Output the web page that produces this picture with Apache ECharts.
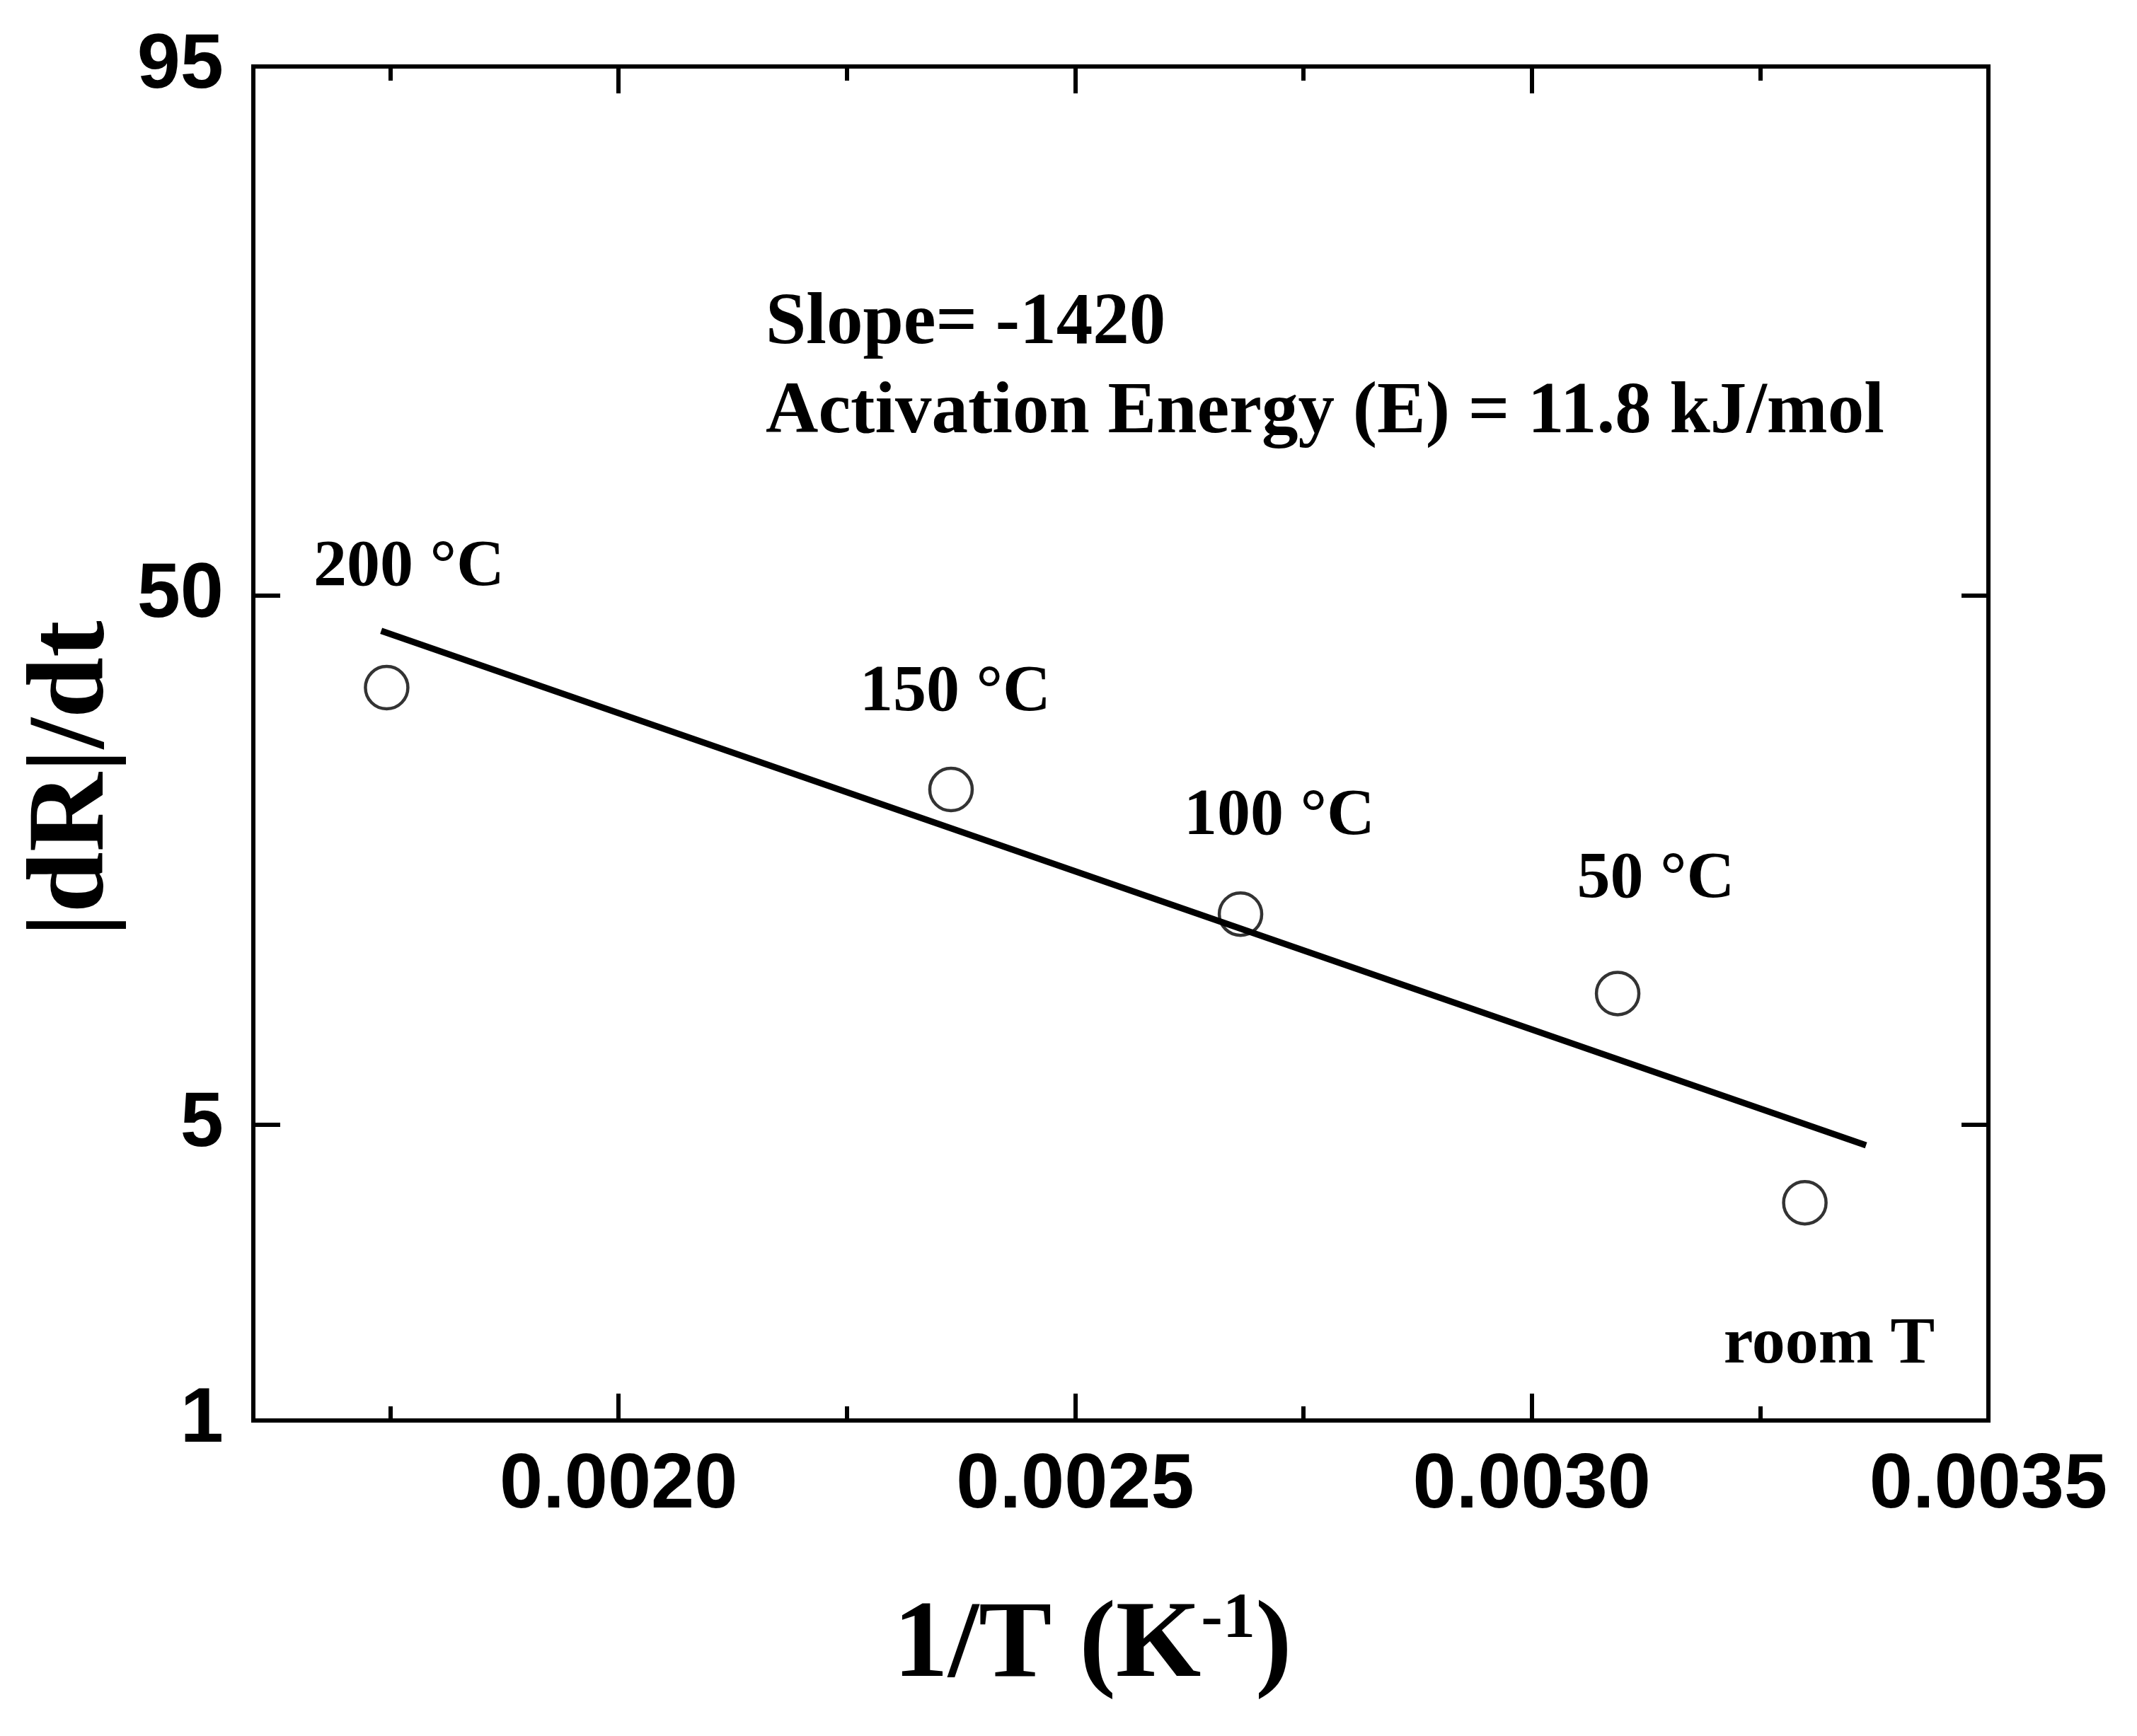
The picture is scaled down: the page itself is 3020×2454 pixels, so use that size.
<!DOCTYPE html>
<html>
<head>
<meta charset="utf-8">
<script src="https://cdn.jsdelivr.net/npm/echarts@6/dist/echarts.min.js"></script>
<style>
html,body{margin:0;padding:0;background:#ffffff;}
#chart{width:3020px;height:2454px;}
</style>
</head>
<body>
<div id="chart"></div>
<script>
// ---- data ----
const tempLabels = ['200 °C', '150 °C', '100 °C', '50 °C', 'room T'];
const invT = [0.001746, 0.002364, 0.002681, 0.003094, 0.003299];   // 1/T (K^-1)
const rate = [33.5, 21.5, 12.5, 8.85, 3.56];                        // |dR|/dt
const fitInvT = [0.001740, 0.003366];                                // fitted line ends
const fitRate = [42.9, 4.57];
const xTickValues = [0.0020, 0.0025, 0.0030, 0.0035];
const xMinorTickValues = [0.00175, 0.00225, 0.00275, 0.00325];
const yTickValues = [1.38, 5, 50, 500];
const yTickLabels = ['1', '5', '50', '95'];
const xRange = [0.0016, 0.0035];
const yRange = [1.38, 500];
const annotationLines = ['Slope= -1420', 'Activation Energy (E) = 11.8 kJ/mol'];

// ---- chart ----
const SANS = '"Liberation Sans", Arial, sans-serif';
const SERIF = '"Liberation Serif", "Times New Roman", serif';
const lg = v => Math.log10(v);
const yTickLog = yTickValues.map(lg);
const yFormatter = v => {
  let best = 0;
  for (let i = 1; i < yTickLog.length; i++) {
    if (Math.abs(yTickLog[i] - v) < Math.abs(yTickLog[best] - v)) best = i;
  }
  return yTickLabels[best];
};

const frameLine = { show: true, lineStyle: { color: '#000', width: 6, cap: 'square' } };
const tickStyle = { color: '#000', width: 6 };

function xAxisDef(position, values, len, main, withLabels) {
  return {
    type: 'value', position: position, min: xRange[0], max: xRange[1],
    axisLine: main ? frameLine : { show: false },
    axisTick: { show: true, inside: true, length: len, customValues: values, lineStyle: tickStyle },
    axisLabel: withLabels ? {
      show: true, customValues: values, margin: 38,
      fontFamily: SANS, fontWeight: 'bold', fontSize: 110, color: '#000',
      formatter: v => v.toFixed(4)
    } : { show: false },
    splitLine: { show: false }
  };
}

const xAxes = [
  xAxisDef('bottom', xTickValues, 38, true, true),
  xAxisDef('bottom', xMinorTickValues, 20, false, false),
  xAxisDef('top', xTickValues, 38, true, false),
  xAxisDef('top', xMinorTickValues, 20, false, false)
];
Object.assign(xAxes[0], {
  name: '{a|1/T (K}{s|-1}{a|)}',
  nameLocation: 'middle',
  nameGap: 236,
  nameTextStyle: {
    padding: [0, 80, 0, 0],
    rich: {
      a: { fontFamily: SERIF, fontWeight: 'bold', fontSize: 155, lineHeight: 170, color: '#000' },
      s: { fontFamily: SERIF, fontWeight: 'bold', fontSize: 92, lineHeight: 60, verticalAlign: 'top', color: '#000' }
    }
  }
});

function yAxisDef(position, withLabels) {
  return {
    type: 'value', position: position, min: lg(yRange[0]), max: lg(yRange[1]),
    axisLine: frameLine,
    axisTick: { show: true, inside: true, length: 38, customValues: yTickLog, lineStyle: tickStyle },
    axisLabel: withLabels ? {
      show: true, customValues: yTickLog, margin: 42,
      fontFamily: SANS, fontWeight: 'bold', fontSize: 110, color: '#000',
      formatter: yFormatter
    } : { show: false },
    splitLine: { show: false }
  };
}
const yAxes = [yAxisDef('left', true), yAxisDef('right', false)];
Object.assign(yAxes[0], {
  name: '|dR|/dt',
  nameLocation: 'middle',
  nameGap: 168,
  nameTextStyle: { fontFamily: SERIF, fontWeight: 'bold', fontSize: 155, color: '#000', padding: [0, 100, 0, 0] }
});

const annFont = 'bold 103px ' + SERIF;
const tFont = 'bold 94px ' + SERIF;
const annPos = [[1082, 458], [1082, 584]];
const tempPos = [[578, 803], [1350, 980], [1808, 1155], [2340, 1244], [2585, 1902]];
const graphics = [];
annotationLines.forEach((t, i) => {
  graphics.push({ type: 'text', x: annPos[i][0], y: annPos[i][1], style: { text: t, font: annFont, fill: '#000', align: 'left', verticalAlign: 'middle' } });
});
tempLabels.forEach((t, i) => {
  graphics.push({ type: 'text', x: tempPos[i][0], y: tempPos[i][1], style: { text: t, font: tFont, fill: '#000', align: 'center', verticalAlign: 'middle' } });
});

const chart = echarts.init(document.getElementById('chart'), null, { renderer: 'canvas' });
chart.setOption({
  animation: false,
  backgroundColor: '#ffffff',
  grid: { left: 358, right: 210, top: 94, bottom: 446, containLabel: false },
  xAxis: xAxes,
  yAxis: yAxes,
  series: [
    {
      type: 'line', xAxisIndex: 0, yAxisIndex: 0, silent: true, z: 2,
      data: fitInvT.map((x, i) => [x, lg(fitRate[i])]),
      symbol: 'none', lineStyle: { color: '#000', width: 9 }
    },
    {
      type: 'scatter', xAxisIndex: 0, yAxisIndex: 0, z: 3,
      data: invT.map((x, i) => [x, lg(rate[i])]),
      symbol: 'circle', symbolSize: 60,
      itemStyle: { color: 'rgba(0,0,0,0)', borderColor: '#000', borderWidth: 4.5 }
    }
  ],
  graphic: graphics
});
</script>
</body>
</html>
